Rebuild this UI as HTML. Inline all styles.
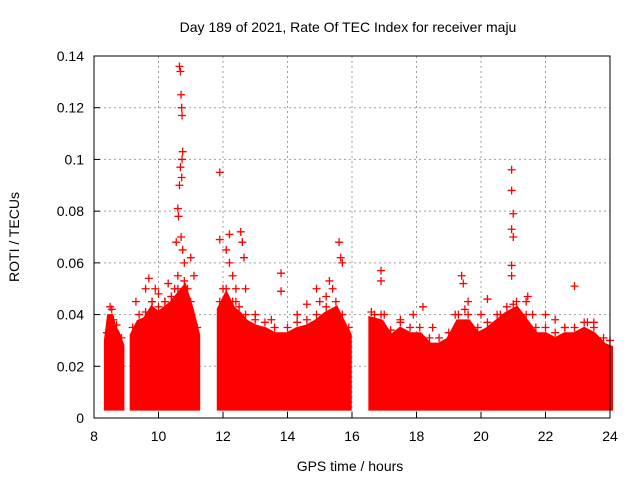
<!DOCTYPE html>
<html><head><meta charset="utf-8"><style>
body{margin:0;background:#fff}
text{font-family:"Liberation Sans",sans-serif;font-size:14px;fill:#000}
</style></head><body>
<svg id="chart" width="640" height="480" xmlns="http://www.w3.org/2000/svg">
<text x="348" y="32" text-anchor="middle">Day 189 of 2021, Rate Of TEC Index for receiver maju</text>
<text x="350" y="471" text-anchor="middle">GPS time / hours</text>
<text transform="translate(19,237) rotate(-90)" text-anchor="middle">ROTI / TECUs</text>
<g id="grid"></g>
<g id="marks"></g>
<rect x="94" y="56" width="516" height="362" fill="none" stroke="#000" stroke-width="1"/>
<g id="ticks"></g>
</svg>
<script>
const xTicks=[8,10,12,14,16,18,20,22,24];
const yTicks=[0,0.02,0.04,0.06,0.08,0.1,0.12,0.14];
const yTickLabels=["0","0.02","0.04","0.06","0.08","0.1","0.12","0.14"];
const seg1T=[8.4,8.5,8.6,8.7,8.85];
const seg1Top=[0.03,0.04,0.035,0.033,0.028];
const seg2T=[9.2,9.4,9.6,9.8,10.0,10.2,10.4,10.6,10.8,11.0,11.2];
const seg2Top=[0.032,0.037,0.038,0.042,0.04,0.042,0.044,0.047,0.05,0.042,0.032];
const seg3T=[11.9,12.1,12.3,12.5,12.7,13.0,13.3,13.6,14.0,14.3,14.6,14.9,15.2,15.5,15.7,15.9];
const seg3Top=[0.042,0.047,0.042,0.04,0.037,0.035,0.034,0.032,0.032,0.034,0.035,0.037,0.04,0.042,0.037,0.032];
const seg4T=[16.6,16.9,17.2,17.5,17.8,18.1,18.4,18.7,19.0,19.3,19.6,19.9,20.2,20.5,20.8,21.1,21.4,21.7,22.0,22.3,22.6,22.9,23.2,23.5,23.8,24.0];
const seg4Top=[0.038,0.037,0.031,0.034,0.032,0.032,0.028,0.028,0.03,0.037,0.037,0.032,0.034,0.037,0.04,0.042,0.037,0.032,0.032,0.03,0.032,0.032,0.034,0.032,0.028,0.027];
const bandLow=0.004;
const outT=[10.65,10.68,10.7,10.72,10.73,10.75,10.73,10.68,10.72,10.65,10.6,10.62,10.7,10.75,10.8,10.55,10.6,10.5,11.0,11.1,10.9,11.9,11.9,12.2,12.1,12.55,12.6,12.65,12.2,12.3,12.4,12.7,13.8,13.8,15.6,15.65,15.7,15.3,15.4,15.2,14.9,16.9,16.9,9.9,9.7,9.3,10.3,19.4,19.45,19.6,20.95,20.95,21.0,20.95,21.0,20.95,20.95,21.45,21.4,22.9,20.2,21.0,18.2,19.5,23.3,22.3,
9.6,9.8,10.0,10.2,10.4,12.0,12.4,13.0,13.5,14.3,14.6,15.0,16.7,17.0,17.5,17.9,18.5,19.2,20.0,20.6,21.6,22.0,22.6,23.5,8.55];
const outV=[0.136,0.134,0.125,0.12,0.117,0.103,0.1,0.097,0.093,0.09,0.081,0.078,0.07,0.065,0.06,0.068,0.055,0.05,0.062,0.055,0.05,0.095,0.069,0.071,0.065,0.072,0.068,0.062,0.06,0.055,0.05,0.05,0.056,0.049,0.068,0.062,0.06,0.053,0.05,0.047,0.05,0.057,0.053,0.05,0.054,0.045,0.052,0.055,0.052,0.045,0.096,0.088,0.079,0.073,0.07,0.059,0.055,0.047,0.045,0.051,0.046,0.044,0.043,0.042,0.037,0.038,
0.05,0.045,0.048,0.045,0.047,0.05,0.045,0.04,0.038,0.04,0.044,0.045,0.04,0.04,0.038,0.04,0.035,0.04,0.04,0.04,0.04,0.04,0.035,0.037,0.042];
const NS="http://www.w3.org/2000/svg";
const X=t=>94+(t-8)*516/16;
const Y=v=>418-v*362/0.14;
const grid=document.getElementById('grid'),ticks=document.getElementById('ticks'),marks=document.getElementById('marks');
function mk(tag,a,p){const e=document.createElementNS(NS,tag);for(const k in a)e.setAttribute(k,a[k]);p.appendChild(e);return e;}
xTicks.forEach(t=>{
 if(t>8&&t<24){const g=mk('line',{x1:X(t),x2:X(t),y1:56,y2:418,stroke:'#a0a0a0','stroke-dasharray':'2,3'},grid);
 
 }
 const l=mk('line',{x1:X(t),x2:X(t),y1:418,y2:412,stroke:'#000'},ticks);
 
 
 const tx=mk('text',{x:X(t),y:441,'text-anchor':'middle'},ticks);tx.textContent=t;
 
 
});
yTicks.forEach((v,i)=>{
 if(v>0&&v<0.14){const g=mk('line',{x1:94,x2:610,y1:Y(v),y2:Y(v),stroke:'#a0a0a0','stroke-dasharray':'2,3'},grid);
 
 }
 const l=mk('line',{x1:94,x2:100,y1:Y(v),y2:Y(v),stroke:'#000'},ticks);
 
 
 const tx=mk('text',{x:84,y:Y(v)+5,'text-anchor':'end'},ticks);tx.textContent=yTickLabels[i];
 
 
});
function plus(t,v){const p=mk('path',{d:`M${X(t)-4},${Y(v)}h8M${X(t)},${Y(v)-4}v8`,stroke:'#f00','stroke-width':1.3},marks);
 
 }
function band(T,Top){
 let d='M'+X(T[0])+','+Y(bandLow);
 T.forEach((t,i)=>{d+=' L'+X(t)+','+Y(Top[i]);});
 d+=' L'+X(T[T.length-1])+','+Y(bandLow)+'Z';
 const p=mk('path',{d:d,fill:'#f00',stroke:'#f00','stroke-width':6,'stroke-linejoin':'miter'},marks);
 
 
 T.forEach((t,i)=>{plus(t,Top[i]+0.003);});
}
band(seg1T,seg1Top);band(seg2T,seg2Top);band(seg3T,seg3Top);band(seg4T,seg4Top);
outT.forEach((t,i)=>plus(t,outV[i]));
</script>
</body></html>
